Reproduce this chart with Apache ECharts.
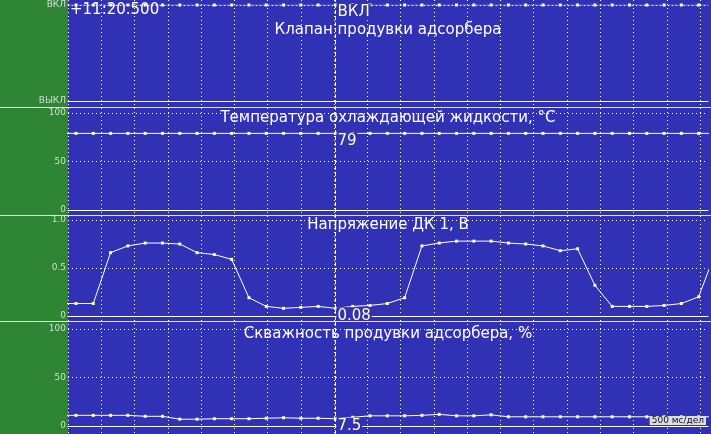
<!DOCTYPE html>
<html>
<head>
<meta charset="utf-8">
<script src="https://cdn.jsdelivr.net/npm/echarts@6/dist/echarts.min.js"></script>
<style>
html,body{margin:0;padding:0;background:#2e8534;}
#chart{width:711px;height:434px;}
</style>
</head>
<body>
<div id="chart"></div>
<script>
// sample times, seconds (500 ms per division)
const times = [-0.14, 0.12, 0.38, 0.64, 0.90, 1.16, 1.42, 1.68, 1.94, 2.20, 2.46, 2.72, 2.98, 3.24, 3.50, 3.76, 4.02, 4.28, 4.54, 4.80, 5.06, 5.32, 5.58, 5.84, 6.10, 6.36, 6.62, 6.88, 7.14, 7.40, 7.66, 7.92, 8.18, 8.44, 8.70, 8.96, 9.22, 9.48, 9.74];
const valveState = [1, 1, 1, 1, 1, 1, 1, 1, 1, 1, 1, 1, 1, 1, 1, 1, 1, 1, 1, 1, 1, 1, 1, 1, 1, 1, 1, 1, 1, 1, 1, 1, 1, 1, 1, 1, 1, 1, 1];
const coolantTemp = [79, 79, 79, 79, 79, 79, 79, 79, 79, 79, 79, 79, 79, 79, 79, 79, 79, 79, 79, 79, 79, 79, 79, 79, 79, 79, 79, 79, 79, 79, 79, 79, 79, 79, 79, 79, 79, 79, 79];
const o2Voltage = [0.13, 0.13, 0.13, 0.66, 0.73, 0.76, 0.76, 0.75, 0.66, 0.64, 0.59, 0.19, 0.10, 0.08, 0.09, 0.10, 0.08, 0.10, 0.11, 0.13, 0.19, 0.73, 0.76, 0.78, 0.78, 0.78, 0.76, 0.75, 0.73, 0.68, 0.70, 0.32, 0.10, 0.10, 0.10, 0.11, 0.13, 0.20, 0.68];
const purgeDuty = [11, 11, 11, 11, 11, 10, 10, 7, 7, 7.5, 7.5, 7.5, 8, 8.5, 8, 8, 7.5, 9, 10.5, 10.5, 10.5, 11, 12, 10.5, 10.5, 11.5, 9.5, 9.5, 9.5, 9.5, 9.5, 9.5, 9.5, 9.5, 9.5, 9.5, 9.5, 9.5, 9.5];

const cursorTime = 4.02;
const cursorValues = [1, 79, 0.08, 7.5];
const cursorLabels = ['ВКЛ', '79', '0.08', '7.5'];
const panelTitles = ['Клапан продувки адсорбера', 'Температура охлаждающей жидкости, °C', 'Напряжение ДК 1, В', 'Скважность продувки адсорбера, %'];
const valveTickLabels = ['ВЫКЛ', 'ВКЛ'];
const tempTickLabels = ['0', '50', '100'];
const voltTickLabels = ['0', '0.5', '1.0'];
const dutyTickLabels = ['0', '50', '100'];
const timeLabel = '+11:20.500';
const scaleLabel = '500 мс/дел';

const BLUE = '#3131b6';
const FONT = 'DejaVu Sans';
const XMAX = 9.62;

const panels = [
  {top: 5, height: 96, min: 0, max: 1, interval: 1, labels: valveTickLabels, values: valveState, titleTop: 23, lineType: 'dotted'},
  {top: 113, height: 97, min: 0, max: 100, interval: 50, labels: tempTickLabels, values: coolantTemp, titleTop: 111, lineType: 'solid'},
  {top: 220, height: 96, min: 0, max: 1, interval: 0.5, labels: voltTickLabels, values: o2Voltage, titleTop: 218, lineType: 'solid'},
  {top: 329, height: 97, min: 0, max: 100, interval: 50, labels: dutyTickLabels, values: purgeDuty, titleTop: 327, lineType: 'solid'}
];

const grid = panels.map(p => ({left: 68, width: 640, top: p.top, height: p.height}));
grid.push({left: 68, width: 643, top: 0, height: 434, show: true, backgroundColor: BLUE, borderWidth: 0});

const xAxis = panels.map((p, i) => ({
  gridIndex: i, type: 'value', min: 0, max: XMAX,
  axisLine: {show: true, onZero: false, lineStyle: {color: '#ffffff', width: 1}},
  axisTick: {show: false}, axisLabel: {show: false}, splitLine: {show: false}
}));
xAxis.push({
  gridIndex: 4, type: 'value', min: 0, max: 643 / 640 * XMAX, interval: 0.5,
  axisLine: {show: false}, axisTick: {show: false}, axisLabel: {show: false},
  splitLine: {show: true, showMaxLine: false, lineStyle: {color: '#ffffff', width: 1, type: [1, 3]}}
});

const yAxis = panels.map((p, i) => ({
  gridIndex: i, type: 'value', min: p.min, max: p.max, interval: p.interval,
  axisLine: {show: false}, axisTick: {show: false},
  axisLabel: {color: '#dadada', fontSize: 9, fontFamily: FONT, margin: 2,
    formatter: (v, idx) => p.labels[Math.round((v - p.min) / p.interval)]},
  splitLine: {show: true, lineStyle: {color: '#ffffff', width: 1, type: [1, 3]}}
}));
yAxis.push({gridIndex: 4, type: 'value', min: 0, max: 1, show: false});

const series = [];
panels.forEach((p, i) => {
  series.push({
    type: 'line', xAxisIndex: i, yAxisIndex: i,
    data: times.map((t, k) => [t, p.values[k]]),
    symbol: 'rect', symbolSize: 3, showSymbol: true, showAllSymbol: true, clip: true,
    lineStyle: {color: '#ffffff', width: 1, type: p.lineType},
    itemStyle: {color: '#ffffb8'}, z: 3, silent: true
  });
  series.push({
    type: 'scatter', xAxisIndex: i, yAxisIndex: i,
    data: [[cursorTime, cursorValues[i]]], symbolSize: 0, z: 6, silent: true,
    itemStyle: {opacity: 1},
    label: {show: true, position: [1, -1], formatter: cursorLabels[i], opacity: 1,
      color: '#ffffc0', fontSize: 15, fontFamily: FONT,
      backgroundColor: BLUE, padding: [1, 1, 0, 1]}
  });
});
series.push({
  type: 'line', xAxisIndex: 4, yAxisIndex: 4, data: [[cursorTime, 0.5]],
  showSymbol: false, lineStyle: {opacity: 0}, z: 4, silent: true,
  markLine: {silent: true, symbol: ['none', 'none'], label: {show: false},
    lineStyle: {color: '#ffff90', width: 1, type: [4, 2]},
    data: [{xAxis: cursorTime}]}
});

const title = panels.map((p, i) => ({
  text: panelTitles[i], left: 388, top: p.titleTop, textAlign: 'center', padding: 0,
  textStyle: {color: '#ffffff', fontSize: 15, fontWeight: 'normal', fontFamily: FONT}
}));
title.push({text: timeLabel, left: 70, top: 3, padding: 0,
  textStyle: {color: '#ffffff', fontSize: 15, fontWeight: 'normal', fontFamily: FONT}});
title.push({text: scaleLabel, right: 5, top: 416, padding: [0, 2],
  backgroundColor: '#dcdce8',
  textStyle: {color: '#101010', fontSize: 9, fontWeight: 'normal', fontFamily: FONT}});

const sepLines = [107.5, 215.5, 321.5].map(y => ({
  type: 'line', shape: {x1: 0, y1: y, x2: 711, y2: y},
  style: {stroke: '#e8e8e8', lineWidth: 1}, z: 10, silent: true
}));

const chart = echarts.init(document.getElementById('chart'), null, {renderer: 'canvas'});
chart.setOption({
  animation: false,
  backgroundColor: '#2e8534',
  title, grid, xAxis, yAxis, series,
  graphic: sepLines
});
</script>
</body>
</html>
